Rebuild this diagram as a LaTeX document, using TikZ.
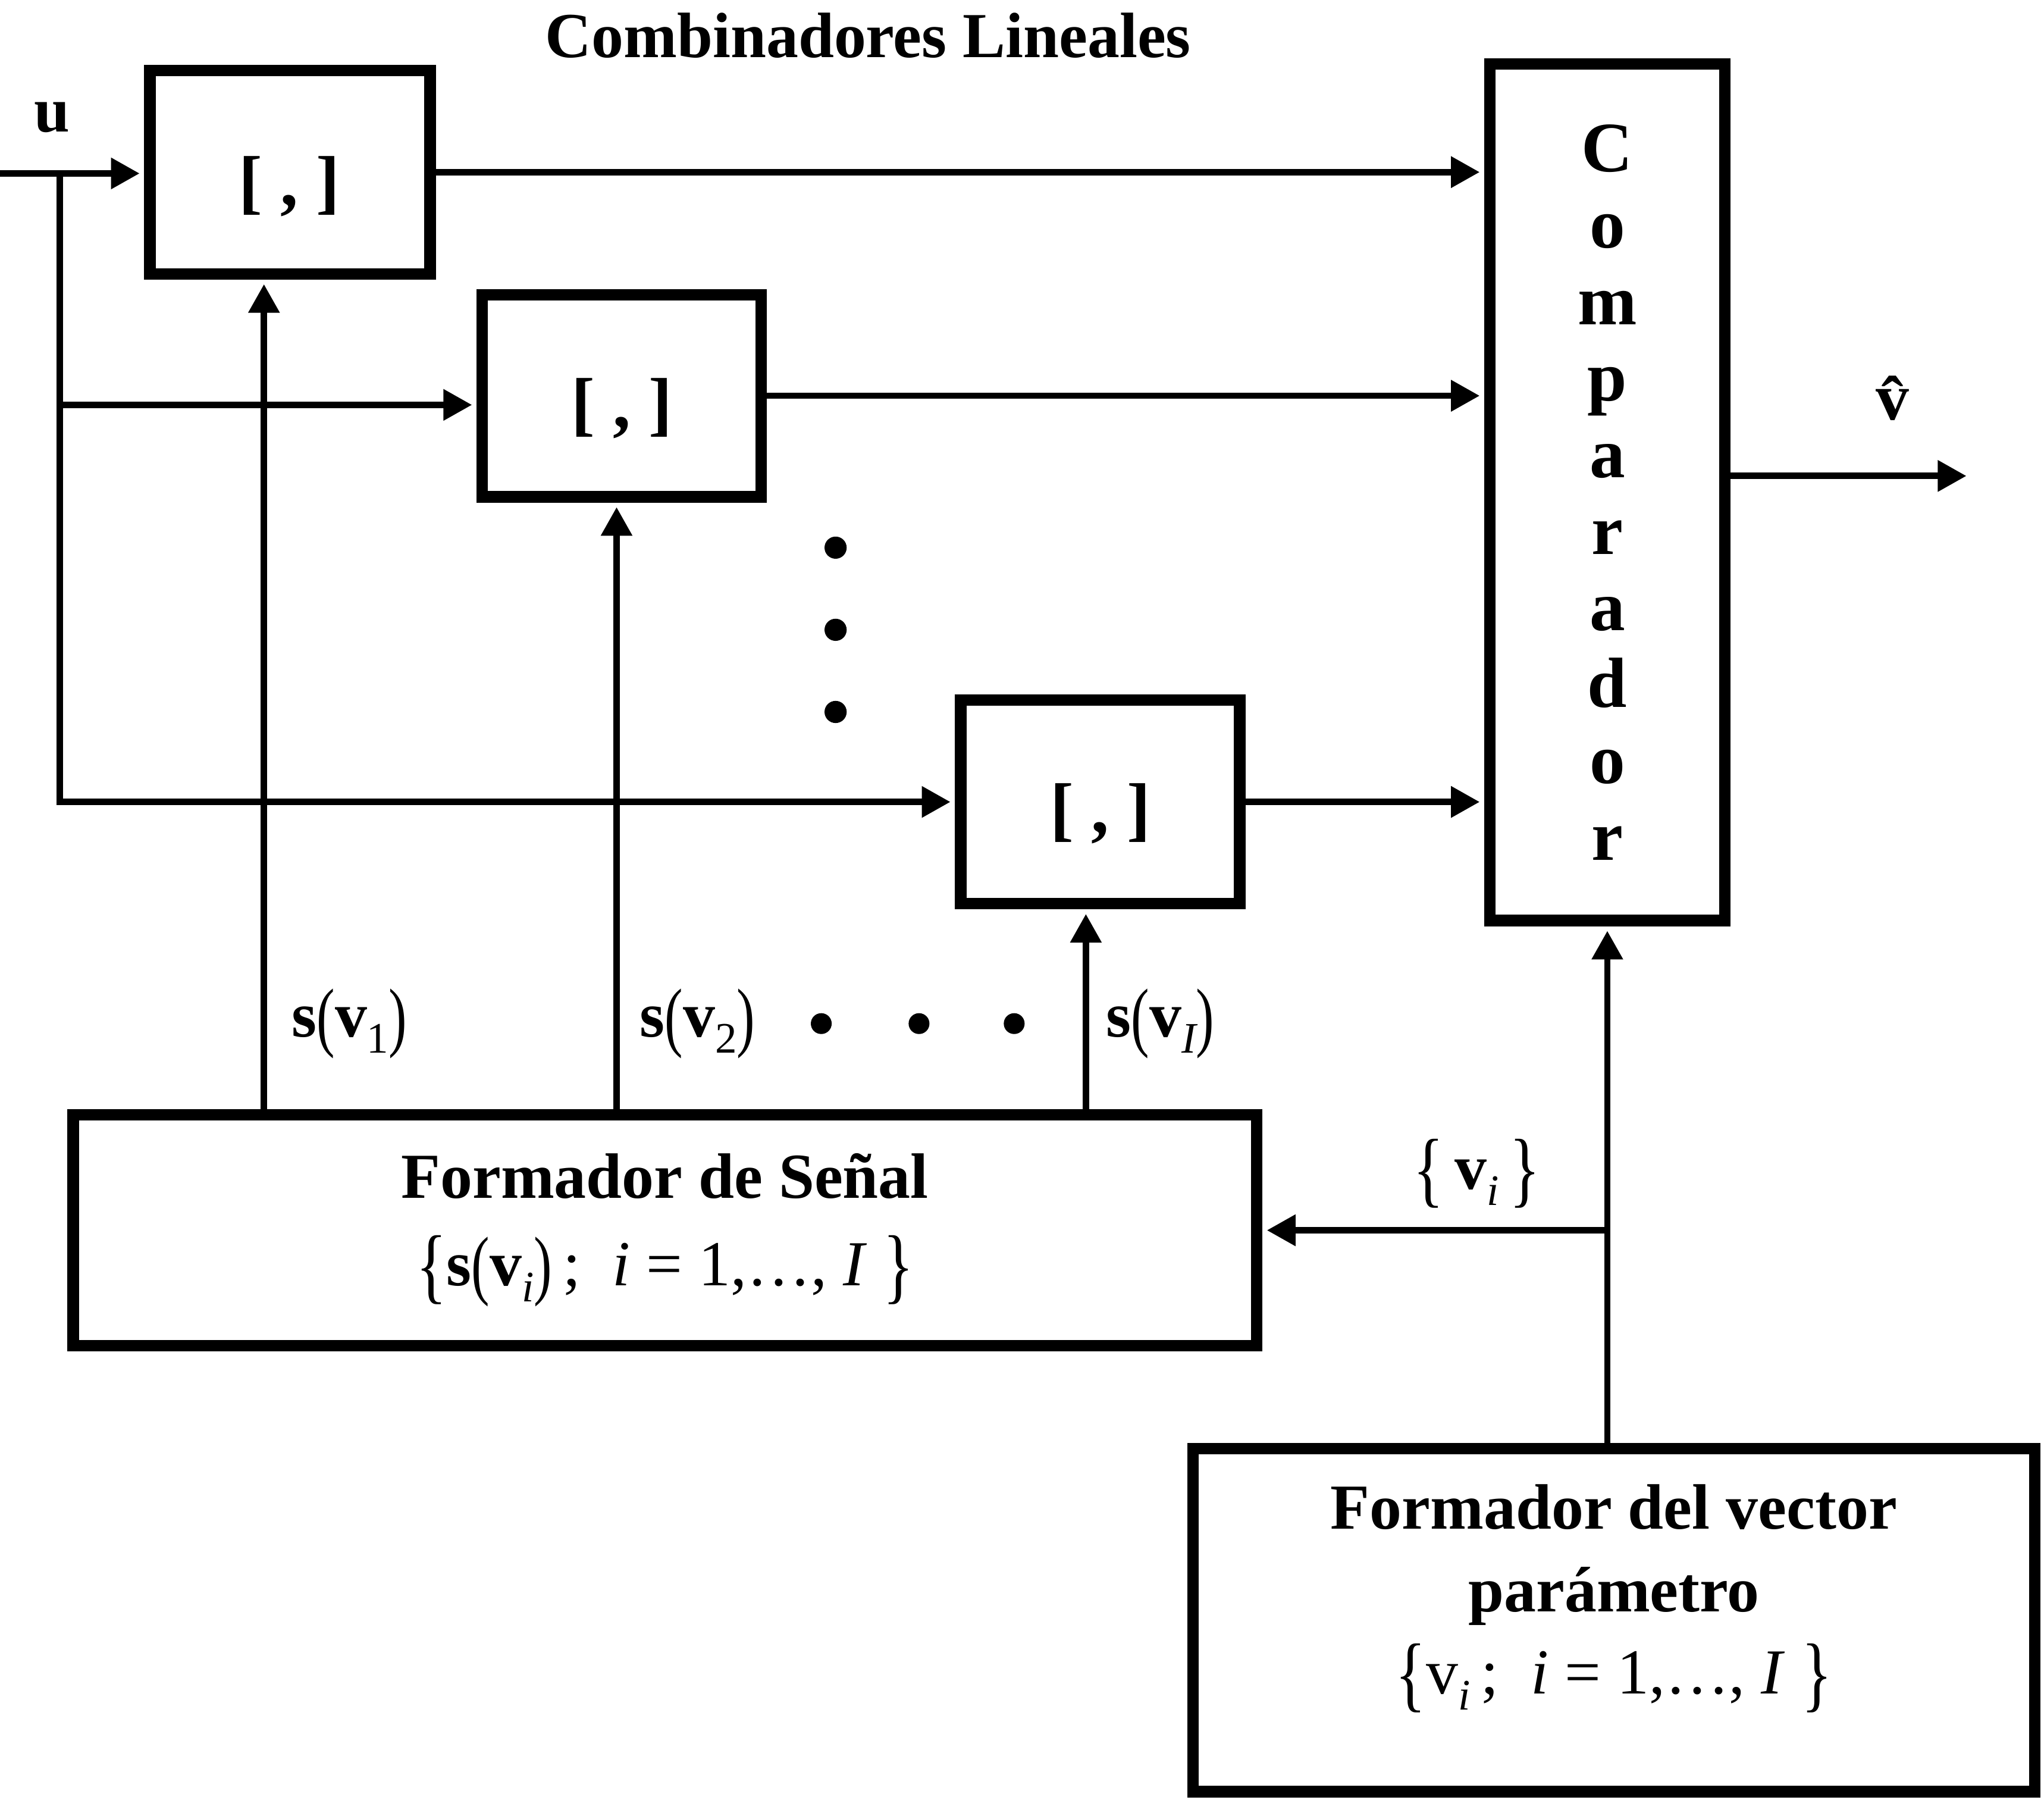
\documentclass[tikz,border=0pt]{standalone}
\usepackage{fontspec}
\setmainfont{Liberation Serif}
\usepackage{graphicx}
\usetikzlibrary{arrows.meta,calc}
\newcommand{\mybr}[1]{\raisebox{-0.12em}{\scalebox{1}[1.3]{\mdseries #1}}}
\newcommand{\mypa}[1]{\raisebox{-0.08em}{\scalebox{0.85}[1.2]{\mdseries #1}}}
\newcommand{\mysb}[1]{\raisebox{-0.25em}{\fontsize{19}{19}\selectfont #1}}
\begin{document}
\begin{tikzpicture}[x=0.02cm,y=-0.02cm,
  box/.style={draw, line width=5pt, inner sep=0pt},
  conn/.style={line width=2.8pt, shorten >=2pt, -{Triangle[length=0.44cm,width=0.46cm]}},
  plain/.style={line width=2.8pt},
  dot/.style={circle, fill, inner sep=0pt, minimum size=0.34cm},
  every node/.style={font=\fontsize{28}{34}\selectfont\bfseries},
  brk/.style={font=\fontsize{31}{36}\selectfont\bfseries}
]
\useasboundingbox (0,0) rectangle (1568,1380);

% titles and labels
\node (title) at (666,27) {Combinadores Lineales};
\node (u) at (40,90) {u};

% combiner boxes
\node[box, minimum width=4.30cm, minimum height=3.12cm] (b1) at (222.5,132) {};
\node[brk] (t1) at (222,143) {[ , ]};
\node[box, minimum width=4.28cm, minimum height=3.10cm] (b2) at (477,303.5) {};
\node[brk] (t2) at (477,313) {[ , ]};
\node[box, minimum width=4.28cm, minimum height=3.12cm] (b3) at (844,615) {};
\node[brk] (t3) at (844,624) {[ , ]};

% vertical dots
\node[dot] (vd1) at (641,420) {};
\node[dot] (vd2) at (641,483) {};
\node[dot] (vd3) at (641,546) {};

% comparador
\node[box, minimum width=3.60cm, minimum height=13.14cm, align=center,
      font=\fontsize{31}{33.4}\selectfont\bfseries] (comp) at (1233,377.5)
  {C\\o\\m\\p\\a\\r\\a\\d\\o\\r};

% output
\coordinate (out) at (1512,365);
\node[anchor=base, inner sep=0pt, font=\fontsize{29}{34}\selectfont\bfseries] (vhat) at (1452,322) {v̂};

% Formador de Senal
\node[box, minimum width=18.16cm, minimum height=3.54cm, align=center,
      font=\fontsize{28}{38}\selectfont\bfseries] (fs) at (510,943.5)
  {Formador de Señal\\ \mdseries\mybr{\{}\textbf{s}\mypa{(}\textbf{v}\mysb{\textit{i}}\mypa{)}\,;\ \ \textit{i} = 1,…, \textit{I}\ \mybr{\}}};

% Formador del vector parametro
\node[box, minimum width=12.92cm, minimum height=5.26cm] (fv) at (1238,1242.5) {};
\node[align=center, font=\fontsize{28}{36}\selectfont\bfseries] (fvt) at (1238,1226)
  {Formador del vector\\parámetro\\ \mdseries\mybr{\{}v\mysb{\textit{i}}\,;\ \ \textit{i} = 1,…, \textit{I}\ \mybr{\}}};

% signal labels
\node (s1) at (268,785) {s\mypa{(}v\mysb{\mdseries 1}\mypa{)}};
\node (s2) at (535,785) {s\mypa{(}v\mysb{\mdseries 2}\mypa{)}};
\node (sI) at (890,785) {s\mypa{(}v\mysb{\mdseries\itshape I}\mypa{)}};
\node[dot, minimum size=0.32cm] (hd1) at (630,785) {};
\node[dot, minimum size=0.32cm] (hd2) at (705,785) {};
\node[dot, minimum size=0.32cm] (hd3) at (778,785) {};

\node (vi) at (1133,900) {\mybr{\{}\,v\mysb{\mdseries\itshape i}\,\mybr{\}}};

% connectors
\coordinate (in) at (0,133);
\coordinate (j) at (46,133);
\draw[conn] (in) -- (in -| b1.west);
\draw[conn] (j) |- ($(b2.west)+(0,7)$);
\draw[conn] (j) |- (b3.west);

\draw[conn] (b1.east) -- (b1.east -| comp.west);
\draw[conn] (b2.east) -- (b2.east -| comp.west);
\draw[conn] (b3.east) -- (b3.east -| comp.west);
\draw[conn] (out -| comp.east) -- (out);

\coordinate (c1) at ($(b1.south)+(-20,0)$);
\coordinate (c2) at ($(b2.south)+(-4,0)$);
\coordinate (c3) at ($(b3.south)+(-11,0)$);
\draw[conn] (fs.north -| c1) -- (c1);
\draw[conn] (fs.north -| c2) -- (c2);
\draw[conn] (fs.north -| c3) -- (c3);

\draw[conn] (fv.north -| comp.south) -- (comp.south);
\coordinate (br) at (comp.south |- fs.east);
\draw[conn] (br) -- (fs.east);
\end{tikzpicture}
\end{document}
